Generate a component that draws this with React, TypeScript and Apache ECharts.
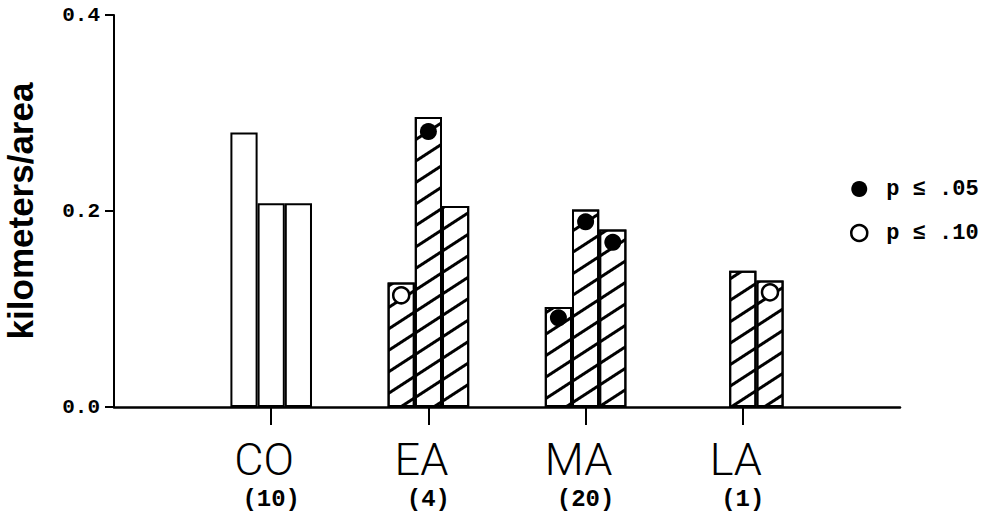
import React, { useEffect, useRef } from 'react';
import * as echarts from 'echarts';

// ---- data ----
const categories = ['CO', 'EA', 'MA', 'LA'];
const sampleSizes = ['(10)', '(4)', '(20)', '(1)'];
const hatched = [false, true, true, true];
const firstBar: (number | null)[] = [0.28, 0.127, 0.102, null];
const secondBar: (number | null)[] = [0.208, 0.296, 0.2015, 0.139];
const thirdBar: (number | null)[] = [0.208, 0.205, 0.181, 0.129];
// significance markers: [category index, bar slot (0..2), value]
const sig05: [number, number, number][] = [[1, 1, 0.281], [2, 0, 0.091], [2, 1, 0.189], [2, 2, 0.168]];
const sig10: [number, number, number][] = [[1, 0, 0.114], [3, 2, 0.117]];
const legendNames = ['p ≤ .05', 'p ≤ .10'];
const yMin = 0;
const yMax = 0.4;
const yStep = 0.2;

const BAR_FRAC = 0.173; // bar width as a fraction of the category band

export default function App() {
  const ref = useRef<HTMLDivElement>(null);
  useEffect(() => {
    if (!ref.current) return;
    const chart = echarts.init(ref.current, null, { renderer: 'svg' });
    const axisCats = ['', ...categories, ''];
    const hatch = {
      symbol: 'rect',
      symbolSize: 1,
      color: '#000',
      backgroundColor: null,
      dashArrayX: [1, 0],
      dashArrayY: [2.2, 14.5],
      rotation: -(Math.PI * 33) / 180,
    };
    const barData = (vals: (number | null)[]) => [
      '-',
      ...vals.map((v, i) =>
        v == null ? '-' : hatched[i] ? { value: v, itemStyle: { decal: hatch } } : { value: v }
      ),
      '-',
    ];
    const barSeries = [firstBar, secondBar, thirdBar].map((vals) => ({
      type: 'bar',
      data: barData(vals),
      barWidth: `${BAR_FRAC * 100}%`,
      barGap: '0%',
      silent: true,
      itemStyle: { color: '#fff', borderColor: '#000', borderWidth: 2 },
    }));
    const markerPos = (m: [number, number, number]) => [m[0] + 1 + (m[1] - 1) * BAR_FRAC, m[2]];
    const mono = 'Liberation Mono';
    chart.setOption({
      animation: false,
      backgroundColor: '#fff',
      grid: { left: 114, right: 84, top: 15, bottom: 120, containLabel: false, outerBoundsMode: 'none' },
      legend: {
        orient: 'vertical',
        left: 845,
        top: 173,
        itemWidth: 16,
        itemHeight: 16,
        itemGap: 22,
        selectedMode: false,
        textStyle: { fontFamily: mono, fontWeight: 'bold', fontSize: 22, color: '#000', padding: [0, 0, 0, 14] },
        data: [
          { name: legendNames[0], icon: 'circle', itemStyle: { color: '#000', opacity: 1 } },
          { name: legendNames[1], icon: 'circle', itemStyle: { color: '#fff', borderColor: '#000', borderWidth: 2.5, opacity: 1 } },
        ],
      },
      xAxis: [
        {
          type: 'category',
          data: axisCats,
          boundaryGap: false,
          axisLine: { lineStyle: { color: '#000', width: 2.5 } },
          axisTick: {
            interval: (i: number) => i > 0 && i < axisCats.length - 1,
            length: 18,
            lineStyle: { color: '#000', width: 2 },
          },
          axisLabel: {
            interval: 0,
            margin: 28,
            formatter: (v: string, i: number) => (v ? `{a|${v}}\n{b|${sampleSizes[i - 1]}}` : ''),
            rich: {
              a: { fontFamily: 'Roboto', fontWeight: 300, fontSize: 45, lineHeight: 48, color: '#000', padding: [0, 14, 0, 0] },
              b: { fontFamily: mono, fontWeight: 'bold', fontSize: 24, lineHeight: 32, color: '#000' },
            },
          },
          splitLine: { show: false },
        },
        { type: 'value', min: 0, max: axisCats.length - 1, show: false },
      ],
      yAxis: {
        type: 'value',
        min: yMin,
        max: yMax,
        interval: yStep,
        name: 'kilometers/area',
        nameLocation: 'middle',
        nameGap: 76,
        nameTextStyle: { fontFamily: 'Liberation Sans', fontWeight: 'bold', fontSize: 35, color: '#000' },
        axisLine: { show: true, lineStyle: { color: '#000', width: 2 } },
        axisTick: { show: true, length: 9, lineStyle: { color: '#000', width: 2 } },
        axisLabel: {
          formatter: (v: number) => v.toFixed(1),
          fontFamily: mono,
          fontWeight: 'bold',
          fontSize: 21,
          color: '#000',
          margin: 14,
        },
        splitLine: { show: false },
      },
      series: [
        ...barSeries,
        {
          type: 'scatter',
          name: legendNames[0],
          xAxisIndex: 1,
          symbol: 'circle',
          symbolSize: 17,
          z: 5,
          silent: true,
          itemStyle: { color: '#000', opacity: 1 },
          data: sig05.map(markerPos),
        },
        {
          type: 'scatter',
          name: legendNames[1],
          xAxisIndex: 1,
          symbol: 'circle',
          symbolSize: 16,
          z: 5,
          silent: true,
          itemStyle: { color: '#fff', borderColor: '#000', borderWidth: 2.5, opacity: 1 },
          data: sig10.map(markerPos),
        },
      ],
    });
    return () => chart.dispose();
  }, []);
  return <div ref={ref} style={{ position: 'fixed', left: 0, top: 0, width: 984, height: 527 }} />;
}
